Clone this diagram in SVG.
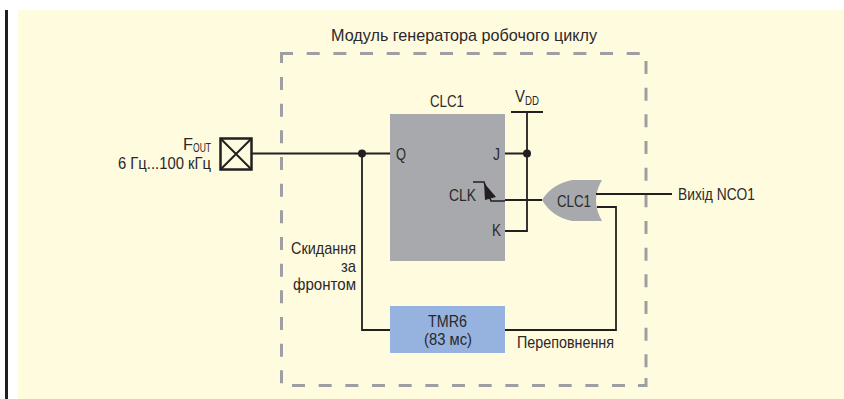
<svg xmlns="http://www.w3.org/2000/svg" width="844" height="399" viewBox="0 0 844 399">
<style>
text{font-family:"Liberation Sans",Arial,sans-serif;fill:#2b2829;font-size:17px}
.s{font-size:13px}
.w{fill:none;stroke:#231f20;stroke-width:1.800}
.d{fill:none;stroke:#9d9fa2;stroke-width:3}
.k{stroke-dasharray:13 13.670}
</style>
<rect width="844" height="399" fill="#fff"/>
<rect x="18" y="10" width="826" height="389" fill="#fffbdf"/>
<rect x="5" y="10" width="3" height="389" fill="#231f20"/>
<g id="module">
<path class="d" d="M293 53.500H281.500V63M638 385.500H646V378"/>
<path class="d k" d="M306.700 53.500H641M281.500 77V384M646 61V371M292 385.500H626"/>
<text x="331" y="41" textLength="266" lengthAdjust="spacingAndGlyphs">Модуль генератора робочого циклу</text>
</g>
<g id="clc1-block">
<rect x="390" y="114" width="115" height="147" fill="#a7a9ac"/>
<text x="430" y="107" textLength="34" lengthAdjust="spacingAndGlyphs">CLC1</text>
<text x="396" y="160" textLength="10" lengthAdjust="spacingAndGlyphs">Q</text>
<text x="493" y="160" textLength="7" lengthAdjust="spacingAndGlyphs">J</text>
<text x="449" y="201" textLength="27" lengthAdjust="spacingAndGlyphs">CLK</text>
<text x="492" y="236" textLength="9" lengthAdjust="spacingAndGlyphs">K</text>
</g>
<g id="tmr6">
<rect x="390" y="306" width="115" height="47" fill="#95b3de"/>
<text x="428" y="327" textLength="39" lengthAdjust="spacingAndGlyphs">TMR6</text>
<text x="424" y="345" textLength="48" lengthAdjust="spacingAndGlyphs">(83 мс)</text>
</g>
<g id="or-gate">
<path d="M542 200Q552 184 572 180H602Q590 200 602 221H572Q552 217 542 200Z" fill="#a7a9ac"/>
<text x="557" y="207" textLength="34" lengthAdjust="spacingAndGlyphs">CLC1</text>
</g>
<g id="pin">
<rect x="220.500" y="138.500" width="31" height="31" fill="none" stroke="#231f20" stroke-width="2.500"/>
<path d="M220.500 138.500L251.500 169.500M251.500 138.500L220.500 169.500" fill="none" stroke="#231f20" stroke-width="2"/>
<text x="183" y="150" textLength="10" lengthAdjust="spacingAndGlyphs">F</text>
<text x="193" y="152" class="s" textLength="18" lengthAdjust="spacingAndGlyphs">OUT</text>
<text x="118" y="169" textLength="93" lengthAdjust="spacingAndGlyphs">6 Гц...100 кГц</text>
</g>
<g id="vdd">
<text x="515" y="102" textLength="10" lengthAdjust="spacingAndGlyphs">V</text>
<text x="525" y="105" class="s" textLength="14" lengthAdjust="spacingAndGlyphs">DD</text>
</g>
<g id="connectors">
<path class="w" d="M252 153.500H390M362 153.500V330H390M505 330H616V207H597M596 194H672M511 112H543M527 112V231H505M505 153.500H527M505 200H542"/>
<path d="M473 182H484L491 201H505" fill="none" stroke="#231f20" stroke-width="1.500"/>
<path d="M484 183L496 197L485 200Z" fill="#231f20"/>
<circle cx="362" cy="153.500" r="4" fill="#231f20"/>
<circle cx="527" cy="153.500" r="4" fill="#231f20"/>
</g>
<g id="labels">
<text x="291" y="253.500" textLength="65" lengthAdjust="spacingAndGlyphs">Скидання</text>
<text x="341" y="271.500" textLength="15" lengthAdjust="spacingAndGlyphs">за</text>
<text x="293" y="289.500" textLength="63" lengthAdjust="spacingAndGlyphs">фронтом</text>
<text x="517" y="348" textLength="97" lengthAdjust="spacingAndGlyphs">Переповнення</text>
<text x="678" y="200" textLength="77" lengthAdjust="spacingAndGlyphs">Вихід NCO1</text>
</g>
</svg>
